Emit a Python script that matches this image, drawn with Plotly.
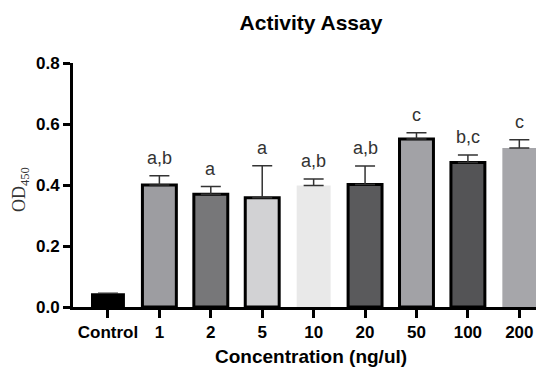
import plotly.graph_objects as go

categories = ["Control", "1", "2", "5", "10", "20", "50", "100", "200"]
means = [0.045, 0.400, 0.370, 0.358, 0.398, 0.402, 0.551, 0.474, 0.521]
errors = [0.0, 0.030, 0.025, 0.105, 0.022, 0.060, 0.020, 0.024, 0.027]
letters = ["", "a,b", "a", "a", "a,b", "a,b", "c", "b,c", "c"]

fill_colors = ["#000000", "#9d9da1", "#777779", "#d2d2d4", "#e9e9e9",
               "#5a5a5c", "#a2a2a6", "#545456", "#a6a6aa"]
border_widths = [0, 3, 3, 3, 0, 3, 3, 3, 0]

# page body has an 8px margin; figure is sized to fit the 544x374 window
W, H = 536, 366
L, T, B, R = 65, 55, 67, 0
PW, PH = W - L - R, H - T - B

fig = go.Figure()
fig.add_trace(go.Bar(
    x=list(range(len(categories))), y=means, width=0.66,
    marker=dict(color=fill_colors, line=dict(color="#000000", width=border_widths)),
    error_y=dict(type="data", symmetric=False, array=errors,
                 arrayminus=[0] * len(errors), color="#333333",
                 thickness=1.5, width=10),
    showlegend=False,
))

for i, (m, e, t) in enumerate(zip(means, errors, letters)):
    if t:
        fig.add_annotation(x=i, y=m + e, text=t, showarrow=False,
                           yanchor="bottom", yshift=6,
                           font=dict(family="Arial", size=18, color="#333333"))

fig.add_annotation(xref="paper", yref="paper", x=(12 - L) / PW, y=(299 - 182) / PH,
                   xanchor="center", yanchor="middle",
                   text="OD<sub>450</sub>", textangle=-90, showarrow=False,
                   font=dict(family="Times New Roman", size=18, color="#333333"))

fig.add_annotation(xref="paper", yref="paper", x=(303 - L) / PW, y=(299 - 348) / PH,
                   xanchor="center", yanchor="middle",
                   text="Concentration (ng/ul)", showarrow=False,
                   font=dict(family="Arial", size=19, color="#000000", weight="bold"))

fig.update_layout(
    width=W, height=H,
    margin=dict(l=L, r=R, t=T, b=B, pad=0),
    plot_bgcolor="white", paper_bgcolor="white",
    title=dict(text="Activity Assay", x=303 / W, xanchor="center",
               y=1 - 15 / H, yanchor="middle",
               font=dict(family="Arial", size=21, color="#000000", weight="bold")),
)
fig.update_xaxes(
    type="linear", range=[-0.68, 8.48],
    tickvals=list(range(len(categories))), ticktext=categories,
    showline=True, linecolor="black", linewidth=3,
    ticks="outside", ticklen=8, tickwidth=3, tickcolor="black",
    tickfont=dict(family="Arial", size=17, color="#000000", weight="bold"),
    showgrid=False, zeroline=False,
)
fig.update_yaxes(
    range=[0, 0.8], tickvals=[0, 0.2, 0.4, 0.6, 0.8], tickformat=".1f",
    showline=True, linecolor="black", linewidth=3,
    ticks="outside", ticklen=7, tickwidth=3, tickcolor="black",
    tickfont=dict(family="Arial", size=17, color="#000000", weight="bold"),
    showgrid=False, zeroline=False,
)

fig.write_html("out.html")
